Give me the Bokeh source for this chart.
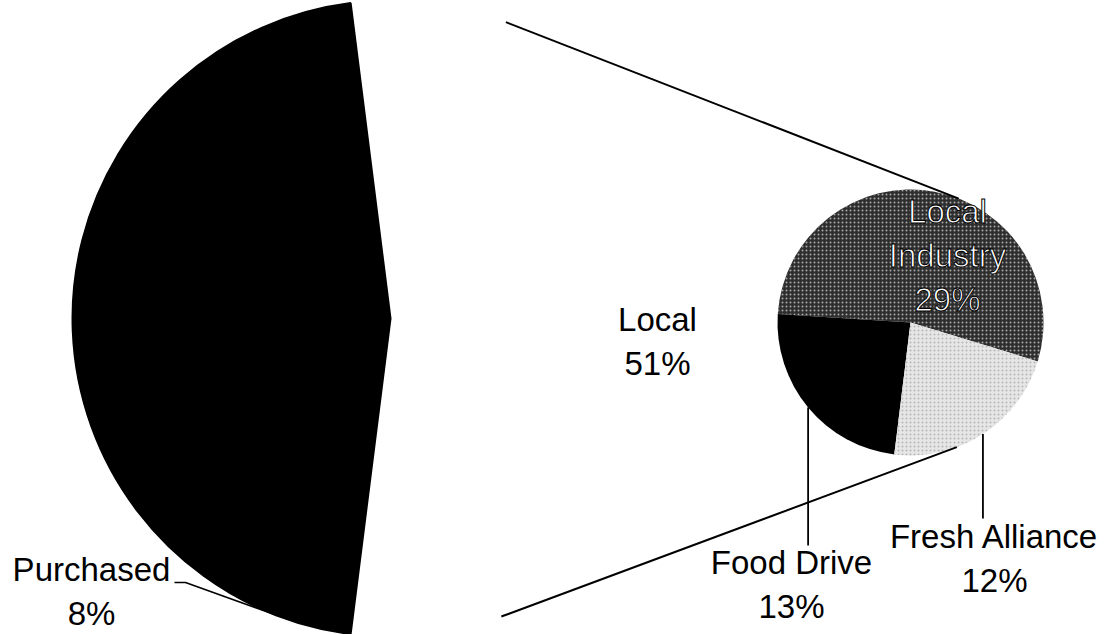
import math
from bokeh.plotting import figure
from bokeh.models import ColumnDataSource, Range1d
from bokeh.core.properties import value
from bokeh.embed import file_html
from bokeh.resources import INLINE

# ---- data ----
main_labels = ["Local", "Other", "Purchased"]
main_values = [54, 38, 8]
main_texts = ["Local\n51%", "", "Purchased\n8%"]

sub_labels = ["Local Industry", "Food Drive", "Fresh Alliance"]
sub_values = [29, 13, 12]
sub_texts = ["Local\nIndustry\n29%", "Food Drive\n13%", "Fresh Alliance\n12%"]

# ---- layout (page pixel coords, y down) ----
W, H = 1109, 634
def Y(ref):
    return H - ref

MAIN_CX, MAIN_CY, MAIN_R = 390, Y(318), 318
SUB_CX, SUB_CY, SUB_R = 910, Y(322), 133
SUB_START = math.radians(-17)

main_colors = ["#ffffff", "#000000", "#000000"]
sub_colors = ["#2e2e2e", "#000000", "#e6e6e6"]
sub_hatch = ["dot", " ", "dot"]
sub_hatch_colors = ["#a8a8a8", "#000000", "#b5b5b5"]

FONT = value("Liberation Sans")
FS = "33px"

p = figure(width=W, height=H, x_range=Range1d(0, W), y_range=Range1d(0, H),
           output_backend="svg", toolbar_location=None, min_border=0)
p.axis.visible = False
p.grid.visible = False
p.outline_line_color = None
p.background_fill_color = "white"

# main pie: first slice centred on 0 rad
tot = sum(main_values)
spans = [v / tot * 2 * math.pi for v in main_values]
a = -spans[0] / 2
m_start, m_end = [], []
for s in spans:
    m_start.append(a)
    m_end.append(a + s)
    a += s
msrc = ColumnDataSource(dict(x=[MAIN_CX] * 3, y=[MAIN_CY] * 3, start=m_start, end=m_end,
                             color=main_colors, label=main_labels))
p.wedge(x="x", y="y", radius=MAIN_R, start_angle="start", end_angle="end",
        fill_color="color", line_color="color", line_width=2, source=msrc)

# secondary pie
stot = sum(sub_values)
a = SUB_START
s_start, s_end = [], []
for v in sub_values:
    s = v / stot * 2 * math.pi
    s_start.append(a)
    s_end.append(a + s)
    a += s
ssrc = ColumnDataSource(dict(x=[SUB_CX] * 3, y=[SUB_CY] * 3, start=s_start, end=s_end,
                             color=sub_colors, hatch=sub_hatch, hcol=sub_hatch_colors,
                             label=sub_labels))
p.wedge(x="x", y="y", radius=SUB_R, start_angle="start", end_angle="end",
        fill_color="color", line_color=None, hatch_pattern="hatch", hatch_color="hcol",
        hatch_scale=4, hatch_weight=1.2, source=ssrc)

# connector lines: external common tangents
dx, dy = SUB_CX - MAIN_CX, SUB_CY - MAIN_CY
d = math.hypot(dx, dy)
phi = math.atan2(dy, dx)
ang = math.acos((MAIN_R - SUB_R) / d)
for sgn in (1, -1):
    t = phi + sgn * ang
    x0, y0 = MAIN_CX + MAIN_R * math.cos(t), MAIN_CY + MAIN_R * math.sin(t)
    x1, y1 = SUB_CX + SUB_R * math.cos(t), SUB_CY + SUB_R * math.sin(t)
    p.line([x0, x1], [y0, y1], line_color="black", line_width=2)

def mid(st, en, i):
    return (st[i] + en[i]) / 2

# leader lines
t = mid(s_start, s_end, 1)  # Food Drive
fx, fy = SUB_CX + SUB_R * math.cos(t), SUB_CY + SUB_R * math.sin(t)
p.line([fx, fx], [fy, Y(545)], line_color="black", line_width=1.8)
t = mid(s_start, s_end, 2)  # Fresh Alliance
fx, fy = SUB_CX + SUB_R * math.cos(t), SUB_CY + SUB_R * math.sin(t)
p.line([fx, fx], [fy, Y(518)], line_color="black", line_width=1.8)
t = mid(m_start, m_end, 2)  # Purchased
px_, py_ = MAIN_CX + MAIN_R * math.cos(t), MAIN_CY + MAIN_R * math.sin(t)
p.line([px_, 185, 174], [py_, Y(582), Y(582)], line_color="black", line_width=1.5)

# labels
lab = ColumnDataSource(dict(x=[657, 91, 791, 994], y=[Y(341), Y(591), Y(584), Y(558)],
                            text=[main_texts[0], main_texts[2], sub_texts[1], sub_texts[2]]))
p.text(x="x", y="y", text="text", source=lab, text_font=FONT, text_font_size=FS,
       text_align="center", text_baseline="middle", text_color="black", text_line_height=1.2)

li = ColumnDataSource(dict(x=[947], y=[Y(255)], text=[sub_texts[0]]))
p.text(x="x", y="y", text="text", source=li, text_font=FONT, text_font_size=FS,
       text_align="center", text_baseline="middle", text_color="white",
       text_outline_color="black", text_line_height=1.2)

open("out.html", "w").write(file_html(p, INLINE))
